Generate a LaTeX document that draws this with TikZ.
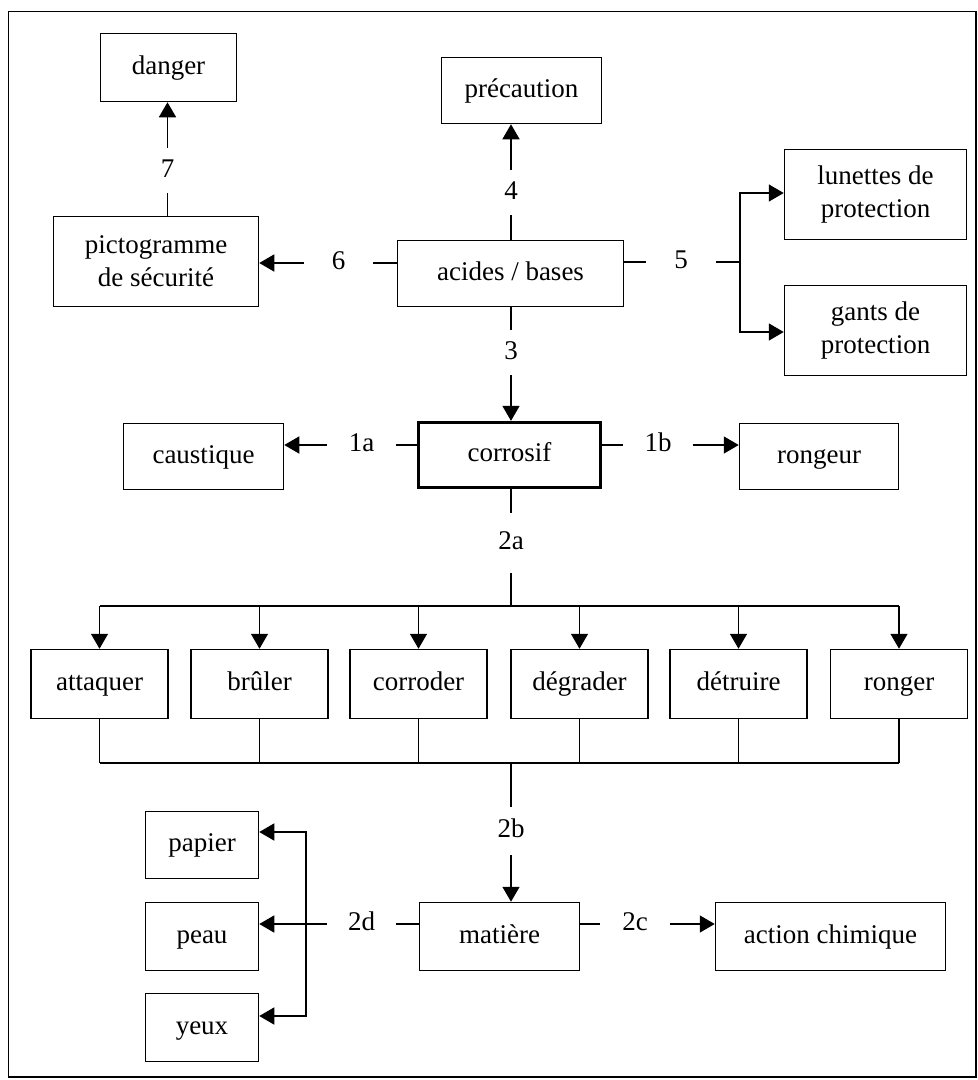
\documentclass[tikz,border=0pt]{standalone}
\usepackage{fontspec}
\setmainfont{Liberation Serif}
\usetikzlibrary{arrows.meta}
\begin{document}
\begin{tikzpicture}[x=1pt,y=-1pt,
  txt/.style={font=\fontsize{27}{33}\selectfont},
  box/.style={txt, draw, line width=1.5pt, inner sep=0pt, align=center},
  one/.style={text height=19pt, text depth=6pt},
  rowbox/.style={box, one, minimum width=137pt, minimum height=69pt},
  lbl/.style={txt, one, inner sep=0pt, minimum width=69pt, minimum height=45pt},
  link/.style={line width=1.5pt},
  arr/.style={line width=1.5pt, -{Triangle[length=15pt,width=17pt]}},
]
\useasboundingbox (0,0) rectangle (978,1080);
% outer frame
\draw[line width=1.6pt] (8.5,11.5) rectangle (976,1077);

% upper part
\node[box, one, minimum width=136pt, minimum height=68pt] (danger) at (168.5,67.5) {danger};
\node[box, one, minimum width=160pt, minimum height=66pt] (precaution) at (521.5,90.5) {précaution};
\node[box, minimum width=205pt, minimum height=90pt] (picto) at (156,261.5) {pictogramme\\de sécurité};
\node[box, one, minimum width=226pt, minimum height=66pt] (acides) at (510.5,273.5) {acides / bases};
\node[box, minimum width=182pt, minimum height=90pt] (lunettes) at (875.5,194.5) {lunettes de\\protection};
\node[box, minimum width=182pt, minimum height=90pt] (gants) at (875.5,330.5) {gants de\\protection};

% middle row
\node[box, one, minimum width=160pt, minimum height=66pt] (caustique) at (203.5,456.5) {caustique};
\node[box, one, line width=3.3pt, minimum width=182pt, minimum height=65pt] (corrosif) at (509.5,455) {corrosif};
\node[box, one, minimum width=159pt, minimum height=66pt] (rongeur) at (819,456.5) {rongeur};

% verbs
\foreach \n/\t/\x in {att/attaquer/99.5, bru/brûler/259.5, cor/corroder/418.5,
                      deg/dégrader/579.5, det/détruire/738.5, ron/ronger/899}
  {\node[rowbox] (\n) at (\x,684) {\t};}

% lower part
\node[box, one, minimum width=160pt, minimum height=68pt] (matiere) at (499.5,936.5) {matière};
\node[box, one, minimum width=230pt, minimum height=68pt] (action) at (830.5,936.5) {action chimique};
\node[box, one, minimum width=113pt, minimum height=67pt] (papier) at (202,845) {papier};
\node[box, one, minimum width=113pt, minimum height=68pt] (peau) at (202,936.5) {peau};
\node[box, one, minimum width=113pt, minimum height=68pt] (yeux) at (202,1027.5) {yeux};

% connector labels
\node[lbl] (l7) at (167.5,170.5) {7};
\node[lbl] (l4) at (511,192.5) {4};
\node[lbl] (l6) at (338.5,263) {6};
\node[lbl] (l5) at (681,262) {5};
\node[lbl] (l3) at (511,352.5) {3};
\node[lbl] (l1a) at (361.5,445) {1a};
\node[lbl] (l1b) at (658,445) {1b};
\node[lbl, minimum height=60pt] (l2a) at (511,543) {2a};
\node[lbl, minimum height=48pt] (l2b) at (511,831) {2b};
\node[lbl] (l2d) at (361.5,924) {2d};
\node[lbl] (l2c) at (635,924) {2c};

\coordinate (b5) at (740,262);
\coordinate (bustop) at (511,606);
\coordinate (busbot) at (511,763);
\coordinate (b2d) at (306,924);

% 7
\draw[link] (picto.north -| l7) -- (l7);
\draw[arr] (l7) -- (danger.south -| l7);
% 4
\draw[link] (acides.north -| l4) -- (l4);
\draw[arr] (l4) -- (precaution.south -| l4);
% 6
\draw[link] (acides.west |- l6) -- (l6);
\draw[arr] (l6) -- (picto.east |- l6);
% 5
\draw[link] (acides.east |- l5) -- (l5);
\draw[link] (l5) -- (b5);
\draw[arr] (b5) |- ([yshift=1.5pt]lunettes.west);
\draw[arr] (b5) |- ([yshift=-1.5pt]gants.west);
% 3
\draw[link] (acides.south -| l3) -- (l3);
\draw[arr] (l3) -- (corrosif.north -| l3);
% 1a, 1b
\draw[link] (corrosif.west |- l1a) -- (l1a);
\draw[arr] (l1a) -- (caustique.east |- l1a);
\draw[link] (corrosif.east |- l1b) -- (l1b);
\draw[arr] (l1b) -- (rongeur.west |- l1b);
% 2a
\draw[link] (corrosif.south -| l2a) -- (l2a);
\draw[link] (l2a) -- (bustop);
\draw[link] (att |- bustop) -- (ron |- bustop);
\draw[link] (att |- busbot) -- (ron |- busbot);
\foreach \n in {att,bru,cor,deg,det,ron}{
  \draw[arr] (\n |- bustop) -- (\n.north);
  \draw[link] (\n.south) -- (\n |- busbot);
}
% 2b
\draw[link] (busbot) -- (l2b);
\draw[arr] (l2b) -- (matiere.north -| l2b);
% 2c
\draw[link] (matiere.east |- l2c) -- (l2c);
\draw[arr] (l2c) -- (action.west |- l2c);
% 2d
\draw[link] (matiere.west |- l2d) -- (l2d);
\draw[arr] (l2d) -- (peau.east |- l2d);
\draw[arr] (b2d) |- ([yshift=13pt]papier.east);
\draw[arr] (b2d) |- ([yshift=11.5pt]yeux.east);
\end{tikzpicture}
\end{document}
